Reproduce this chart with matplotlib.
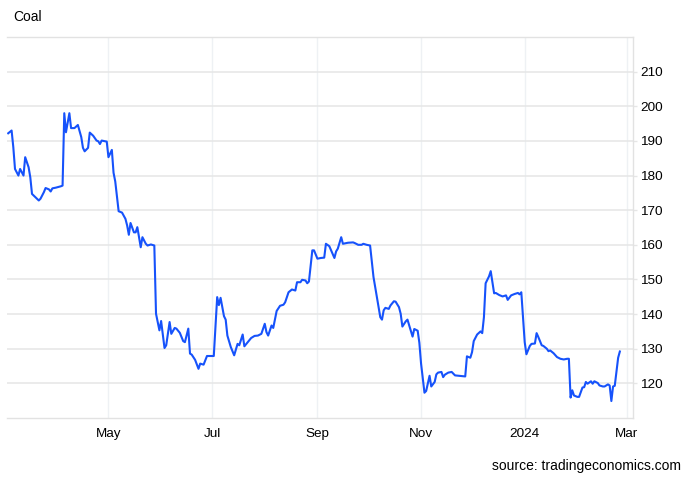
import matplotlib
matplotlib.use("Agg")
import matplotlib.pyplot as plt
import pandas as pd

plt.rcParams['font.family'] = ['Liberation Sans', 'DejaVu Sans']

# coal price
dates = [
    '2023-03-03', '2023-03-05', '2023-03-06', '2023-03-07', '2023-03-09', '2023-03-10', '2023-03-12',
    '2023-03-13', '2023-03-15', '2023-03-16', '2023-03-17', '2023-03-21', '2023-03-22', '2023-03-24',
    '2023-03-25', '2023-03-27', '2023-03-28', '2023-03-29', '2023-03-31', '2023-04-03', '2023-04-04',
    '2023-04-05', '2023-04-06', '2023-04-08', '2023-04-09', '2023-04-11', '2023-04-13', '2023-04-15',
    '2023-04-16', '2023-04-17', '2023-04-19', '2023-04-20', '2023-04-22', '2023-04-24', '2023-04-25',
    '2023-04-26', '2023-04-27', '2023-04-30', '2023-05-01', '2023-05-03', '2023-05-04', '2023-05-05',
    '2023-05-07', '2023-05-09', '2023-05-11', '2023-05-12', '2023-05-13', '2023-05-14', '2023-05-16',
    '2023-05-17', '2023-05-18', '2023-05-20', '2023-05-21', '2023-05-23', '2023-05-24', '2023-05-26',
    '2023-05-28', '2023-05-29', '2023-05-31', '2023-06-01', '2023-06-03', '2023-06-04', '2023-06-06',
    '2023-06-07', '2023-06-09', '2023-06-10', '2023-06-12', '2023-06-14', '2023-06-15', '2023-06-17',
    '2023-06-18', '2023-06-19', '2023-06-21', '2023-06-23', '2023-06-24', '2023-06-26', '2023-06-28',
    '2023-07-02', '2023-07-04', '2023-07-05', '2023-07-06', '2023-07-08', '2023-07-09', '2023-07-10',
    '2023-07-12', '2023-07-14', '2023-07-16', '2023-07-17', '2023-07-19', '2023-07-20', '2023-07-22',
    '2023-07-24', '2023-07-26', '2023-07-28', '2023-07-30', '2023-08-01', '2023-08-02', '2023-08-03',
    '2023-08-05', '2023-08-06', '2023-08-08', '2023-08-10', '2023-08-12', '2023-08-13', '2023-08-15',
    '2023-08-17', '2023-08-19', '2023-08-20', '2023-08-22', '2023-08-23', '2023-08-25', '2023-08-26',
    '2023-08-27', '2023-08-29', '2023-08-30', '2023-09-01', '2023-09-03', '2023-09-05', '2023-09-06',
    '2023-09-08', '2023-09-11', '2023-09-12', '2023-09-13', '2023-09-15', '2023-09-16', '2023-09-19',
    '2023-09-22', '2023-09-23', '2023-09-25', '2023-09-27', '2023-09-28', '2023-09-30', '2023-10-02',
    '2023-10-04', '2023-10-07', '2023-10-08', '2023-10-09', '2023-10-10', '2023-10-11', '2023-10-13',
    '2023-10-14', '2023-10-16', '2023-10-17', '2023-10-19', '2023-10-20', '2023-10-21', '2023-10-23',
    '2023-10-24', '2023-10-25', '2023-10-27', '2023-10-28', '2023-10-30', '2023-10-31', '2023-11-01',
    '2023-11-03', '2023-11-04', '2023-11-06', '2023-11-07', '2023-11-09', '2023-11-10', '2023-11-11',
    '2023-11-13', '2023-11-14', '2023-11-15', '2023-11-17', '2023-11-19', '2023-11-21', '2023-11-23',
    '2023-11-27', '2023-11-28', '2023-11-30', '2023-12-01', '2023-12-02', '2023-12-04', '2023-12-06',
    '2023-12-07', '2023-12-08', '2023-12-09', '2023-12-11', '2023-12-12', '2023-12-14', '2023-12-15',
    '2023-12-17', '2023-12-19', '2023-12-21', '2023-12-22', '2023-12-24', '2023-12-26', '2023-12-28',
    '2023-12-29', '2023-12-30', '2024-01-01', '2024-01-02', '2024-01-04', '2024-01-05', '2024-01-07',
    '2024-01-08', '2024-01-09', '2024-01-11', '2024-01-12', '2024-01-14', '2024-01-15', '2024-01-16',
    '2024-01-18', '2024-01-20', '2024-01-22', '2024-01-24', '2024-01-26', '2024-01-27', '2024-01-28',
    '2024-01-29', '2024-01-30', '2024-02-01', '2024-02-02', '2024-02-04', '2024-02-05', '2024-02-06',
    '2024-02-07', '2024-02-09', '2024-02-10', '2024-02-11', '2024-02-13', '2024-02-14', '2024-02-16',
    '2024-02-17', '2024-02-19', '2024-02-20', '2024-02-21', '2024-02-22', '2024-02-23', '2024-02-25',
    '2024-02-26',
]
prices = [
    192.2, 193.0, 188.2, 181.9, 180.0, 181.9, 180.0,
    185.3, 182.4, 179.5, 174.7, 172.8, 173.3, 175.2,
    176.4, 176.0, 175.4, 176.3, 176.5, 176.9, 177.1,
    198.0, 192.5, 198.0, 193.7, 193.7, 194.6, 191.1,
    188.0, 187.0, 188.0, 192.4, 191.5, 190.1, 189.9,
    189.1, 190.1, 189.8, 185.3, 187.4, 180.8, 178.3,
    169.7, 169.3, 167.5, 165.6, 162.9, 166.3, 163.6,
    163.6, 165.1, 159.3, 162.2, 160.3, 159.8, 160.1,
    159.8, 140.1, 135.3, 138.0, 130.2, 131.0, 137.7,
    134.3, 136.0, 135.8, 134.6, 132.2, 131.9, 135.8,
    128.6, 128.3, 126.8, 124.2, 125.7, 125.4, 127.9,
    127.9, 144.9, 142.6, 144.7, 139.4, 138.4, 133.8,
    130.5, 128.1, 131.4, 131.0, 134.1, 130.7, 131.9,
    133.1, 133.7, 133.8, 134.3, 137.2, 134.8, 133.8,
    136.7, 136.0, 140.9, 142.4, 142.7, 143.4, 146.3,
    147.1, 146.8, 149.2, 149.2, 149.9, 149.7, 148.9,
    149.4, 158.4, 158.4, 156.0, 156.2, 156.3, 160.3,
    159.6, 156.2, 158.1, 158.9, 162.2, 160.3, 160.6,
    160.7, 160.5, 160.0, 160.0, 160.3, 160.0, 159.8,
    150.7, 142.0, 139.1, 138.4, 141.1, 141.8, 141.5,
    142.5, 143.7, 143.6, 142.0, 140.1, 136.4, 137.9,
    138.4, 136.8, 133.5, 135.7, 135.2, 131.7, 125.7,
    117.3, 117.8, 122.2, 119.1, 120.4, 122.6, 123.1,
    123.3, 121.8, 122.5, 123.1, 123.3, 122.3, 122.2,
    122.0, 127.8, 127.4, 129.0, 132.2, 134.1, 135.0,
    134.5, 139.1, 148.9, 150.9, 152.4, 146.0, 146.1,
    145.5, 145.1, 145.4, 144.1, 145.4, 145.8, 146.1,
    145.7, 146.3, 131.9, 128.4, 130.8, 131.4, 131.5,
    134.5, 133.4, 131.0, 130.8, 130.0, 129.3, 129.5,
    128.7, 127.6, 127.1, 126.9, 127.1, 127.1, 115.9,
    118.0, 116.5, 116.1, 116.1, 118.8, 118.9, 120.4,
    119.9, 120.6, 119.9, 120.6, 120.1, 119.4, 119.1,
    119.1, 119.7, 119.4, 114.9, 119.1, 119.3, 127.4,
    129.2,
]

tick_dates = ['2023-05-01', '2023-07-01', '2023-09-01', '2023-11-01', '2024-01-01', '2024-03-01']
tick_labels = ['May', 'Jul', 'Sep', 'Nov', '2024', 'Mar']
y_ticks = [120, 130, 140, 150, 160, 170, 180, 190, 200, 210]

grid_col = '#e6e6e6'
vgrid_col = '#eef1f4'

fig = plt.figure(figsize=(6.9, 4.78), dpi=100)
ax = fig.add_axes([7 / 690, 1 - 418 / 478, 626.3 / 690, 381 / 478])

ax.plot(pd.to_datetime(dates), prices, color='#1652fb', linewidth=1.5, solid_joinstyle='round')

ax.set_xlim(pd.Timestamp('2023-03-02 07:00'), pd.Timestamp('2024-03-04 22:00'))
ax.set_ylim(110, 220)

ax.set_xticks(pd.to_datetime(tick_dates))
ax.set_xticklabels(tick_labels)
ax.set_yticks(y_ticks)
ax.yaxis.tick_right()

ax.grid(axis='y', color=grid_col, linewidth=1.1)
ax.grid(axis='x', color=vgrid_col, linewidth=1.0)
ax.set_axisbelow(True)

for side in ['top', 'bottom', 'right']:
    ax.spines[side].set_color('#e2e2e2')
    ax.spines[side].set_linewidth(1.0)
ax.spines['left'].set_visible(False)

ax.tick_params(axis='x', length=0, pad=7, labelsize=9.7, colors='#000000')
ax.tick_params(axis='y', length=3, width=1.0, color=grid_col, pad=2, labelsize=9.7, labelcolor='#000000')

fig.text(13 / 690, 1 - 17 / 478, 'Coal', fontsize=10, ha='left', va='center')
fig.text(681 / 690, 1 - 466 / 478, 'source: tradingeconomics.com', fontsize=10, ha='right', va='center')

fig.savefig('out.png', dpi=100)
